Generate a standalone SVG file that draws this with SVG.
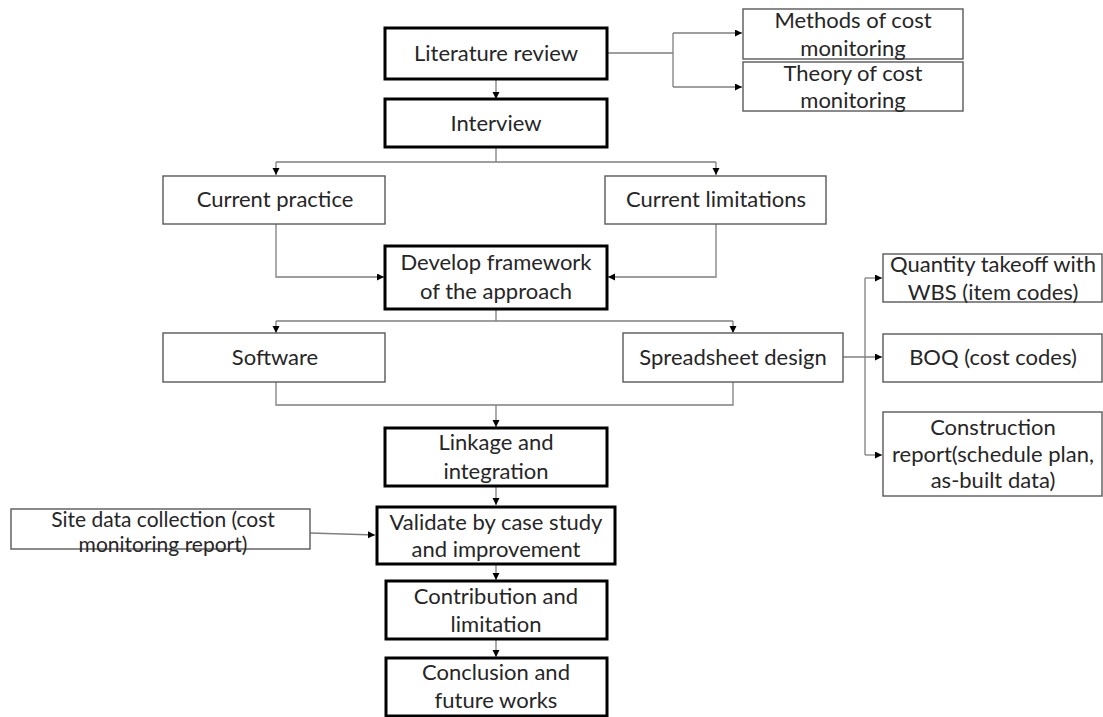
<svg xmlns="http://www.w3.org/2000/svg" width="1103" height="717" viewBox="0 0 1103 717">
<defs>
<marker id="ah" markerUnits="userSpaceOnUse" markerWidth="8" markerHeight="8" refX="7" refY="3.5" orient="auto">
<path d="M0,0 L7,3.5 L0,7 z" fill="#000"/>
</marker>
<style>
.thin{fill:#fff;stroke:#595959;stroke-width:1.4}
.thick{fill:#fff;stroke:#000;stroke-width:3}
.t{font-family:Lato,"Liberation Sans",sans-serif;font-size:22px;fill:#262626;text-anchor:middle}
.s{font-size:21px}
.c{fill:none;stroke:#7f7f7f;stroke-width:1.3}
.a{marker-end:url(#ah)}
</style>
</defs>
<rect width="1103" height="717" fill="#fff"/>
<g id="connectors">
<path class="c a" d="M496,79 V99"/>
<path class="c" d="M607,53 H673 M673,33 V87"/>
<path class="c a" d="M673,33 H742"/>
<path class="c a" d="M673,87 H742"/>
<path class="c" d="M496,147 V162 M276,162 H716"/>
<path class="c a" d="M276,162 V175"/>
<path class="c a" d="M716,162 V175"/>
<path class="c a" d="M276,224 V277 H384"/>
<path class="c a" d="M716,224 V277 H608"/>
<path class="c" d="M496,309 V321 M276,321 H733"/>
<path class="c a" d="M276,321 V333"/>
<path class="c a" d="M733,321 V333"/>
<path class="c" d="M276,382 V405 H733 V382"/>
<path class="c a" d="M496,405 V427"/>
<path class="c a" d="M496,486 V505"/>
<path class="c a" d="M496,564 V580"/>
<path class="c a" d="M496,639 V657"/>
<path class="c a" d="M310,533 L375,535"/>
<path class="c a" d="M843,357 H882"/>
<path class="c" d="M865,278 V455"/>
<path class="c a" d="M865,278 H882"/>
<path class="c a" d="M865,455 H882"/>
</g>
<g id="literature-review">
<rect class="thick" x="385" y="28" width="222" height="51"/>
<text class="t" x="496" y="61">Literature review</text>
</g>
<g id="methods">
<rect class="thin" x="743" y="9" width="220" height="50"/>
<text class="t" x="853" y="28">Methods of cost</text>
<text class="t" x="853" y="56">monitoring</text>
</g>
<g id="theory">
<rect class="thin" x="743" y="62" width="220" height="49"/>
<text class="t" x="853" y="81">Theory of cost</text>
<text class="t" x="853" y="108">monitoring</text>
</g>
<g id="interview">
<rect class="thick" x="385" y="99" width="222" height="48"/>
<text class="t" x="496" y="131">Interview</text>
</g>
<g id="current-practice">
<rect class="thin" x="163" y="176" width="222" height="48"/>
<text class="t" x="275" y="207">Current practice</text>
</g>
<g id="current-limitations">
<rect class="thin" x="605" y="176" width="221" height="48"/>
<text class="t" x="716" y="207">Current limitations</text>
</g>
<g id="develop">
<rect class="thick" x="385" y="246" width="222" height="63"/>
<text class="t" x="496" y="270">Develop framework</text>
<text class="t" x="496" y="299">of the approach</text>
</g>
<g id="software">
<rect class="thin" x="163" y="333" width="222" height="49"/>
<text class="t" x="275" y="365">Software</text>
</g>
<g id="spreadsheet">
<rect class="thin" x="623" y="333" width="220" height="49"/>
<text class="t" x="733" y="365">Spreadsheet design</text>
</g>
<g id="quantity">
<rect class="thin" x="883" y="254" width="219" height="48"/>
<text class="t" x="993" y="272">Quantity takeoff with</text>
<text class="t" x="993" y="300">WBS (item codes)</text>
</g>
<g id="boq">
<rect class="thin" x="883" y="334" width="219" height="48"/>
<text class="t" x="993" y="365">BOQ (cost codes)</text>
</g>
<g id="construction">
<rect class="thin" x="883" y="412" width="219" height="84"/>
<text class="t" x="993" y="435">Construction</text>
<text class="t" x="993" y="462">report(schedule plan,</text>
<text class="t" x="993" y="488">as-built data)</text>
</g>
<g id="linkage">
<rect class="thick" x="385" y="428" width="222" height="58"/>
<text class="t" x="496" y="450">Linkage and</text>
<text class="t" x="496" y="479">integration</text>
</g>
<g id="site-data">
<rect class="thin" x="11" y="509" width="299" height="40"/>
<text class="t s" x="163" y="527">Site data collection (cost</text>
<text class="t s" x="163" y="552">monitoring report)</text>
</g>
<g id="validate">
<rect class="thick" x="377" y="507" width="238" height="57"/>
<text class="t" x="496" y="530">Validate by case study</text>
<text class="t" x="496" y="557">and improvement</text>
</g>
<g id="contribution">
<rect class="thick" x="386" y="581" width="221" height="58"/>
<text class="t" x="496" y="604">Contribution and</text>
<text class="t" x="496" y="632">limitation</text>
</g>
<g id="conclusion">
<rect class="thick" x="386" y="658" width="221" height="58"/>
<text class="t" x="496" y="680">Conclusion and</text>
<text class="t" x="496" y="708">future works</text>
</g>
</svg>
